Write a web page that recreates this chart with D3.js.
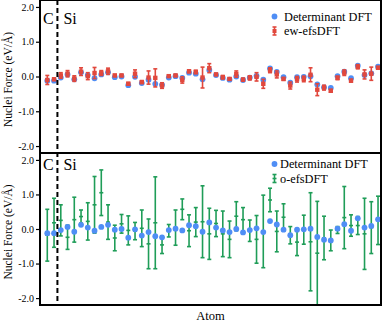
<!DOCTYPE html>
<html>
<head>
<meta charset="utf-8">
<script src="https://cdn.jsdelivr.net/npm/d3@7"></script>
<style>
  body { margin: 0; background: #fff; }
  text { font-family: "Liberation Serif", "Times New Roman", serif; }
</style>
</head>
<body>
<div id="chart"></div>
<script>
// Datos (fuerza nuclear por átomo, eV/Å)
const atoms = d3.range(50);
const detDFT = [-0.12,-0.12,-0.03,0.06,-0.08,0.12,0.04,-0.05,0.06,0.12,
  -0.02,0.0,-0.25,-0.01,-0.19,-0.09,-0.21,-0.24,-0.03,0.01,
  -0.04,0.11,0.08,-0.08,0.19,0.04,-0.04,-0.09,0.0,-0.1,
  -0.03,0.02,-0.09,0.23,0.13,-0.02,-0.18,-0.02,-0.01,0.01,
  -0.23,-0.31,-0.33,0.01,0.14,-0.05,0.31,0.04,0.09,0.28];
const ewVal = [-0.1,-0.08,0.03,0.08,-0.06,0.14,0.01,0.1,0.1,0.15,
  0.03,0.03,-0.21,0.08,-0.16,-0.03,-0.04,-0.26,0.01,0.03,
  -0.1,0.15,0.13,-0.03,0.24,0.06,-0.02,-0.07,0.07,-0.09,
  -0.04,-0.01,-0.21,0.18,0.06,-0.07,-0.26,-0.08,-0.07,0.05,
  -0.38,-0.32,-0.41,-0.04,0.11,-0.12,0.28,0.06,0.08,0.25];
const ewErr = [0.13,0.03,0.08,0.09,0.08,0.11,0.1,0.16,0.07,0.09,
  0.03,0.03,0.04,0.11,0.04,0.19,0.26,0.08,0.03,0.03,
  0.09,0.04,0.05,0.3,0.13,0.03,0.05,0.03,0.09,0.04,
  0.06,0.12,0.13,0.07,0.1,0.04,0.1,0.08,0.08,0.2,
  0.17,0.07,0.04,0.05,0.08,0.04,0.06,0.13,0.19,0.04];
const oVal = [-0.18,0.18,0.25,-0.24,0.27,0.36,0.22,0.7,1.05,0.2,
  -0.26,0.15,-0.04,-0.06,0.02,-0.43,0.18,-0.46,-0.05,0.04,
  0.57,-0.05,0.2,0.21,-0.14,0.16,-0.14,-0.3,0.37,0.27,
  -0.05,-0.3,-0.07,0.84,-0.07,0.34,-0.18,-0.38,-0.02,-0.37,
  -0.7,-0.26,-0.33,-0.03,0.33,0.1,0.1,-0.14,0.04,0.25];
const oErr = [0.75,0.71,0.45,0.35,0.65,0.19,0.54,0.82,0.66,0.5,
  0.37,0.27,0.42,0.25,0.53,0.72,1.33,0.25,0.18,0.51,
  0.3,0.46,0.42,1.04,0.74,0.38,0.66,0.53,0.42,0.35,
  0.31,0.69,1.05,0.34,0.59,0.39,0.25,0.39,0.42,1.42,
  1.5,0.63,0.3,0.1,0.9,0.31,0.26,1.03,0.75,0.7];
const yTicks = [-2, -1, 0, 1, 2];
const boundary = 1.5; // frontera C | Si

const W = 382, H = 322;
const left = 40, right = 381;
const blue = '#4f8ef5', red = '#e1483d', green = '#1f9d58';

const svg = d3.select('#chart').append('svg')
  .attr('width', W).attr('height', H);

const x = d3.scaleLinear().domain([-1.08, 49.44]).range([left, right]);

const panels = [
  { top: 0, bottom: 153, name: 'ew-efsDFT', val: ewVal, err: ewErr, color: red, kind: 'sq',
    lab: 1.52, legX: 284, legY: 20.5 },
  { top: 153, bottom: 305, name: 'o-efsDFT', val: oVal, err: oErr, color: green, kind: 'tick',
    lab: 1.7, legX: 280, legY: 168 }
];

panels.forEach(p => {
  const y = d3.scaleLinear().domain([-2.2, 2.2]).range([p.bottom, p.top]);
  const g = svg.append('g');

  // eje Y
  const ax = g.append('g')
    .attr('transform', `translate(${left},0)`)
    .call(d3.axisLeft(y).tickValues(yTicks).tickSize(4).tickPadding(2).tickFormat(d => d.toFixed(1)));
  ax.select('.domain').remove();
  ax.selectAll('line').attr('stroke', '#000').attr('stroke-width', 1.2);
  ax.selectAll('text').attr('font-size', 10).attr('fill', '#000')
    .style('font-family', '"Liberation Serif", serif');

  g.append('text')
    .attr('transform', `translate(12,${y(0) + 3}) rotate(-90)`)
    .attr('text-anchor', 'middle')
    .attr('font-size', 11.5)
    .text('Nuclei Force (eV/Å)');

  const data = atoms.map(i => ({ i, d: detDFT[i], v: p.val[i], e: p.err[i] }));

  const drawBars = () => {
    const eb = g.append('g').selectAll('g').data(data).join('g')
      .attr('stroke', p.color).attr('stroke-width', 1.6);
    eb.append('line')
      .attr('x1', d => x(d.i)).attr('x2', d => x(d.i))
      .attr('y1', d => y(d.v + d.e)).attr('y2', d => y(d.v - d.e));
    eb.append('line')
      .attr('x1', d => x(d.i) - 2).attr('x2', d => x(d.i) + 2)
      .attr('y1', d => y(d.v + d.e)).attr('y2', d => y(d.v + d.e));
    eb.append('line')
      .attr('x1', d => x(d.i) - 2).attr('x2', d => x(d.i) + 2)
      .attr('y1', d => y(d.v - d.e)).attr('y2', d => y(d.v - d.e));
    if (p.kind === 'sq') {
      eb.append('rect')
        .attr('x', d => x(d.i) - 2.2).attr('y', d => y(d.v) - 2.2)
        .attr('width', 4.4).attr('height', 4.4)
        .attr('fill', p.color).attr('stroke', 'none');
    } else {
      eb.append('line')
        .attr('x1', d => x(d.i) - 2).attr('x2', d => x(d.i) + 2)
        .attr('y1', d => y(d.v)).attr('y2', d => y(d.v));
    }
  };
  const drawDots = () => {
    g.append('g').selectAll('circle').data(data).join('circle')
      .attr('cx', d => x(d.i)).attr('cy', d => y(d.d)).attr('r', 2.9)
      .attr('fill', blue);
  };
  // arriba: rojo encima; abajo: puntos azules encima
  if (p.kind === 'sq') { drawDots(); drawBars(); } else { drawBars(); drawDots(); }

  // marco del panel
  g.append('rect')
    .attr('x', left).attr('y', p.top)
    .attr('width', right - left).attr('height', p.bottom - p.top)
    .attr('fill', 'none').attr('stroke', '#000').attr('stroke-width', 2);

  // etiquetas C / Si
  g.append('text').attr('x', left + 3).attr('y', y(p.lab))
    .attr('font-size', 16).text('C');
  g.append('text').attr('x', x(boundary) + 6).attr('y', y(p.lab))
    .attr('font-size', 16).text('Si');

  // leyenda
  const lg = g.append('g');
  lg.append('circle').attr('cx', 274.5).attr('cy', p.legY - 4).attr('r', 2.9).attr('fill', blue);
  lg.append('text').attr('x', p.legX).attr('y', p.legY).attr('font-size', 12.3).text('Determinant DFT');
  const iy = p.legY + 10.5;
  lg.append('line').attr('x1', 274.5).attr('x2', 274.5).attr('y1', iy - 4).attr('y2', iy + 4)
    .attr('stroke', p.color).attr('stroke-width', 1.6);
  [iy - 4, iy + 4].forEach(v => lg.append('line')
    .attr('x1', 272.5).attr('x2', 276.5).attr('y1', v).attr('y2', v)
    .attr('stroke', p.color).attr('stroke-width', 1.6));
  if (p.kind === 'sq') {
    lg.append('rect').attr('x', 272.5).attr('y', iy - 2).attr('width', 4).attr('height', 4).attr('fill', p.color);
  } else {
    lg.append('line').attr('x1', 272.5).attr('x2', 276.5).attr('y1', iy).attr('y2', iy)
      .attr('stroke', p.color).attr('stroke-width', 1.6);
  }
  lg.append('text').attr('x', p.legX).attr('y', p.legY + 14.5).attr('font-size', 12.3).text(p.name);
});

// línea discontinua C | Si
svg.append('line')
  .attr('x1', x(boundary)).attr('x2', x(boundary))
  .attr('y1', 0).attr('y2', 305)
  .attr('stroke', '#000').attr('stroke-width', 2)
  .attr('stroke-dasharray', '5,3');

svg.append('text')
  .attr('x', (left + right) / 2).attr('y', 320)
  .attr('text-anchor', 'middle').attr('font-size', 12.5)
  .text('Atom');
</script>
</body>
</html>
